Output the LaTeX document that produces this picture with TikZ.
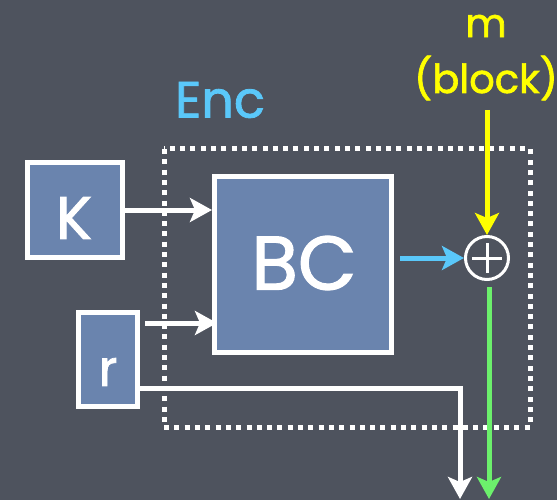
\documentclass[tikz,border=0pt]{standalone}
\usepackage{fontspec}
\setmainfont{Poppins}[FakeBold=1.6,AutoFakeBold=1.6]
\usetikzlibrary{arrows.meta}
\definecolor{bg}{HTML}{4E535E}
\definecolor{boxblue}{HTML}{6A84AE}
\definecolor{encblue}{HTML}{5AC8FA}
\definecolor{myyellow}{HTML}{FFFF00}
\definecolor{mygreen}{HTML}{6CF06C}
\tikzset{
  blockbox/.style={draw=white, line width=5pt, fill=boxblue, inner sep=0pt},
  lbl/.style={text=white, inner sep=0pt},
  tipx/.style={-{Stealth[length=22pt, width=24pt, inset=5pt]}},
  warr/.style={draw=white, line width=5pt, tipx},
  carr/.style={draw=encblue, line width=5pt, tipx},
  yarr/.style={draw=myyellow, line width=5pt, tipx},
  garr/.style={draw=mygreen, line width=5pt, tipx},
}
\begin{document}
\begin{tikzpicture}[x=1pt, y=-1pt]
\fill[bg] (0,0) rectangle (557,500);
\useasboundingbox (0,0) rectangle (557,500);

% Enc dotted frame
\draw[white, line width=5pt, dash pattern=on 5pt off 5.3pt] (164,149) rectangle (530,427);

% boxes
\node[blockbox, minimum width=95pt, minimum height=95pt] (K) at (75,210) {};
\node[blockbox, minimum width=177pt, minimum height=176pt] (BC) at (303,264.5) {};
\node[blockbox, minimum width=59pt, minimum height=94pt] (r) at (108,359.5) {};

\node[lbl, font=\fontsize{60}{60}\selectfont] (Kt) at (74,218) {K};
\node[lbl, font=\fontsize{76}{76}\selectfont] (BCt) at (304,263) {BC};
\node[lbl, font=\fontsize{50}{50}\selectfont] (rt) at (108,372) {r};

% labels
\node[text=encblue, inner sep=0pt, font=\fontsize{51}{51}\selectfont] (enc) at (220,100) {Enc};
\node[text=myyellow, inner sep=0pt, font=\fontsize{40}{40}\selectfont] (m) at (486,26) {m};
\node[text=myyellow, inner sep=0pt, font=\fontsize{40}{40}\selectfont] (blk) at (486,78) {(block)};

% xor
\node[circle, draw=white, line width=3pt, minimum size=43pt, inner sep=0pt] (xor) at (487,258) {};
\draw[white, line width=3pt] ([xshift=-15pt]xor.center) -- ([xshift=15pt]xor.center)
  ([yshift=-15pt]xor.center) -- ([yshift=15pt]xor.center);

% coordinates
\coordinate (ytop) at (487,110);
\coordinate (out1) at (460,499);
\coordinate (out2) at (489,499);

% connectors
\draw[warr] (K.east) -- (K.east -| BC.west);
\draw[warr] ([shift={(5,-36.5)}]r.east) -- ([shift={(5,-36.5)}]r.east -| BC.west);
\draw[warr] ([shift={(0,28.5)}]r.east) -| (out1);
\draw[carr] ([xshift=6pt]BC.east |- xor.west) -- (xor.west);
\draw[yarr] (ytop) -- (xor.north);
\draw[garr] ([yshift=-6pt]xor.south -| out2) -- (out2);
\end{tikzpicture}
\end{document}
